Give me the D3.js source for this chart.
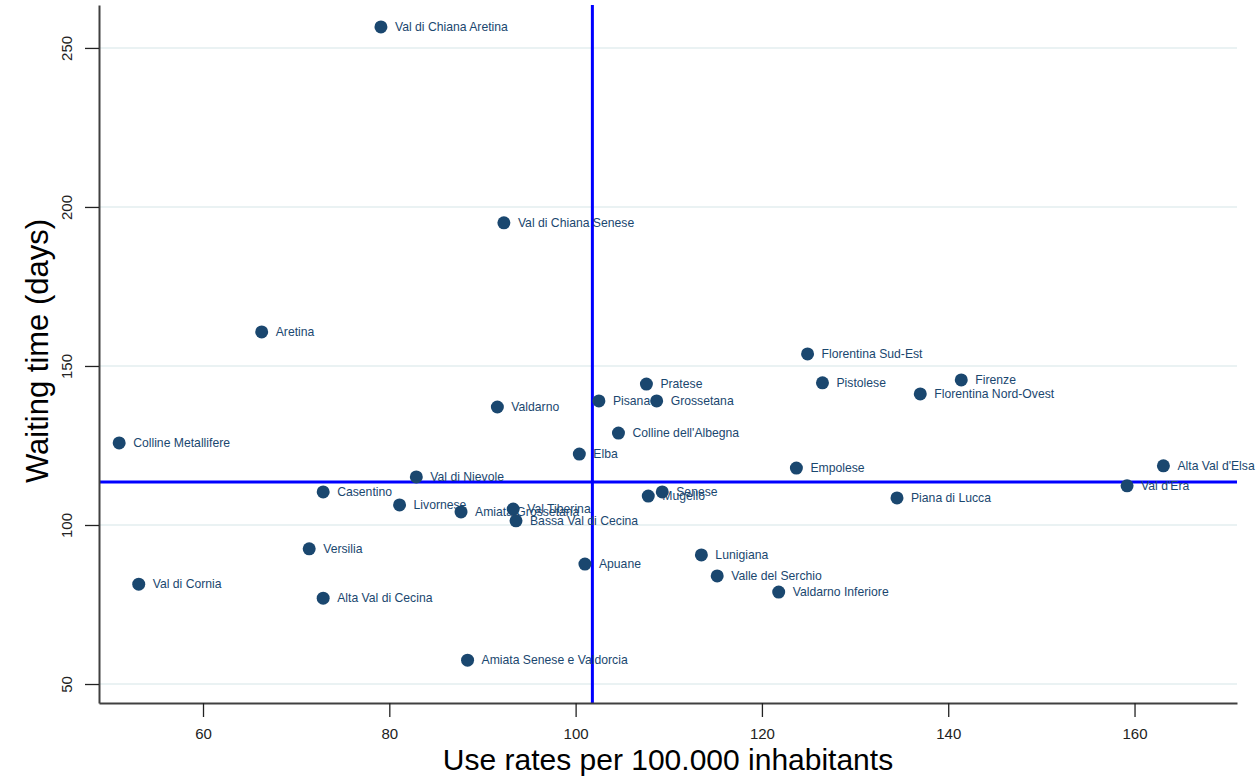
<!DOCTYPE html>
<html>
<head>
<meta charset="utf-8">
<script src="https://cdn.jsdelivr.net/npm/d3@7"></script>
<style>
  html, body { margin: 0; padding: 0; background: #ffffff; }
  svg { display: block; }
</style>
</head>
<body>
<svg id="chart" width="1257" height="779"></svg>
<script>
// ---- data ----
const zones = ["Val di Chiana Aretina","Val di Chiana Senese","Aretina","Florentina Sud-Est","Pratese","Pistolese","Firenze","Florentina Nord-Ovest","Pisana","Grossetana","Valdarno","Colline dell'Albegna","Colline Metallifere","Elba","Empolese","Alta Val d'Elsa","Val di Nievole","Val d'Era","Casentino","Senese","Mugello","Piana di Lucca","Livornese","Amiata Grossetana","Val Tiberina","Bassa Val di Cecina","Versilia","Lunigiana","Apuane","Valle del Serchio","Val di Cornia","Valdarno Inferiore","Alta Val di Cecina","Amiata Senese e Valdorcia"];
const useRates = [79.1,92.3,66.3,124.9,107.6,126.5,141.4,137.0,102.5,108.7,91.6,104.6,51.0,100.4,123.7,163.1,82.9,159.2,72.9,109.3,107.8,134.5,81.1,87.7,93.3,93.6,71.4,113.5,101.0,115.2,53.1,121.8,72.9,88.4];
const waitingTimes = [256.6,195.0,160.7,153.8,144.3,144.7,145.6,141.2,139.0,139.0,137.1,128.9,125.8,122.3,117.9,118.6,115.1,112.3,110.4,110.4,109.1,108.5,106.3,104.1,105.0,101.3,92.5,90.6,87.7,84.0,81.4,78.9,77.0,57.5];
const xTicks = [60,80,100,120,140,160];
const yTicks = [50,100,150,200,250];
const meanUseRate = [101.8];
const meanWaiting = [113.5];
const xTitle = ["Use rates per 100.000 inhabitants"];
const yTitle = ["Waiting time (days)"];

// ---- layout ----
const L = 99, R = 1237, T = 5, B = 703;
const navy = "#1a476f";
const svg = d3.select("#chart");

const x = d3.scaleLinear().domain([48.835, 171.0]).range([L, R]);
const y = d3.scaleLinear().domain([44.03, 263.5]).range([B, T]);

// grid
svg.append("g").selectAll("line").data(yTicks).join("line")
  .attr("x1", L).attr("x2", R)
  .attr("y1", d => y(d)).attr("y2", d => y(d))
  .attr("stroke", "#eaf2f3").attr("stroke-width", 2);

// reference lines
svg.append("line")
  .attr("x1", x(meanUseRate[0])).attr("x2", x(meanUseRate[0]))
  .attr("y1", T).attr("y2", B)
  .attr("stroke", "#0000ff").attr("stroke-width", 3);
svg.append("line")
  .attr("x1", L).attr("x2", R)
  .attr("y1", y(meanWaiting[0])).attr("y2", y(meanWaiting[0]))
  .attr("stroke", "#0000ff").attr("stroke-width", 3);

// axes
const xAxis = d3.axisBottom(x).tickValues(xTicks).tickSize(14).tickPadding(11).tickSizeOuter(0);
const gx = svg.append("g").attr("transform", `translate(0,${B})`).call(xAxis);
gx.select(".domain").attr("stroke", "#404040").attr("stroke-width", 2);
gx.selectAll(".tick line").attr("stroke", "#222").attr("stroke-width", 1.3);
gx.selectAll(".tick text").attr("font-family", "'Liberation Sans Narrow', 'Liberation Sans', Arial, sans-serif")
  .attr("font-size", 15).attr("fill", "#222");

const yAxis = d3.axisLeft(y).tickValues(yTicks).tickSize(14).tickPadding(0).tickSizeOuter(0);
const gy = svg.append("g").attr("transform", `translate(${L},0)`).call(yAxis);
gy.select(".domain").attr("stroke", "#404040").attr("stroke-width", 2);
gy.selectAll(".tick line").attr("stroke", "#222").attr("stroke-width", 1.3);
gy.selectAll(".tick text")
  .attr("font-family", "'Liberation Sans Narrow', 'Liberation Sans', Arial, sans-serif")
  .attr("font-size", 15).attr("fill", "#222")
  .attr("text-anchor", "middle").attr("dy", null)
  .attr("transform", "translate(-31,0) rotate(-90)")
  .attr("x", 0).attr("y", 0)
  .attr("dominant-baseline", "middle");

// axis titles
svg.append("text").text(xTitle[0])
  .attr("x", 668).attr("y", 770).attr("text-anchor", "middle")
  .attr("font-family", "'Liberation Sans Narrow', 'Liberation Sans', Arial, sans-serif")
  .attr("font-size", 30).attr("fill", "#000");
svg.append("text").text(yTitle[0])
  .attr("transform", "translate(48,351) rotate(-90)").attr("text-anchor", "middle")
  .attr("font-family", "'Liberation Sans Narrow', 'Liberation Sans', Arial, sans-serif")
  .attr("font-size", 31).attr("fill", "#000");

// points
const pts = zones.map((z, i) => ({ name: z, u: useRates[i], w: waitingTimes[i] }));
svg.append("g").selectAll("circle").data(pts).join("circle")
  .attr("cx", d => x(d.u)).attr("cy", d => y(d.w)).attr("r", 6.5)
  .attr("fill", navy);

svg.append("g").selectAll("text").data(pts).join("text")
  .attr("x", d => x(d.u) + 14).attr("y", d => y(d.w) + 4)
  .text(d => d.name)
  .attr("font-family", "'Liberation Sans', Arial, sans-serif")
  .attr("font-size", 12.2).attr("fill", navy);
</script>
</body>
</html>
